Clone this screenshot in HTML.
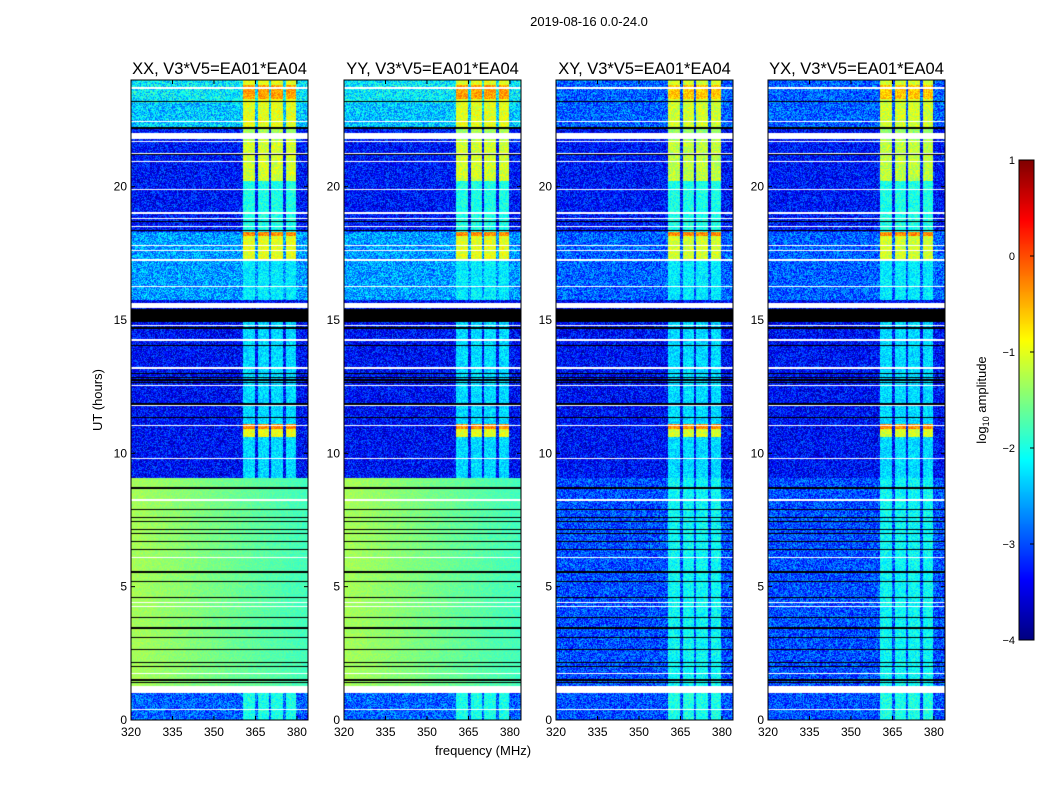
<!DOCTYPE html>
<html><head><meta charset="utf-8">
<style>
body{margin:0;background:#fff;width:1050px;height:800px;overflow:hidden;position:relative;font-family:"Liberation Sans",sans-serif}
canvas{position:absolute}
svg{position:absolute;left:0;top:0}
text{font-family:"Liberation Sans",sans-serif;fill:#000}
</style></head><body>
<div id="fig"></div>
<svg id="s" width="1050" height="800"></svg>
<script>
// ---- data (hours, MHz, log10 amplitude) ----
const panelTitles=["XX, V3*V5=EA01*EA04","YY, V3*V5=EA01*EA04","XY, V3*V5=EA01*EA04","YX, V3*V5=EA01*EA04"];
const panelCross=[0,0,1,1];
const segStart=[23.14,22.2,21.75,18.3,15.75,14.93,9.08,1.01,0];
const segEnd=[24,23.14,22.2,21.75,18.3,15.75,14.93,9.08,1.01];
const segPar=[-2.2,-2.4,-3.3,-3.3,-2.6,-3.4,-3.35,-1.3,-2.9];
const segCross=[-2.9,-2.9,-3.4,-3.3,-2.9,-3.4,-3.35,-3.0,-3.0];
const whiteStart=[23.67,22.44,21.79,21.66,21.24,20.91,19.86,18.97,18.78,18.5,17.79,17.57,17.23,16.25,15.45,14.79,14.23,13.18,12.54,11.79,11.04,9.77,8.23,6.09,4.37,4.22,1.74,1.01,0.36];
const whiteEnd=[23.73,22.48,22.01,21.7,21.28,20.95,19.9,19.05,18.82,18.54,17.83,17.61,17.27,16.29,15.64,14.83,14.28,13.22,12.58,11.83,11.08,9.81,8.27,6.13,4.41,4.26,1.78,1.28,0.4];
const blackStart=[23.16,22.18,21.2,18.69,18.32,14.93,14.68,14.04,12.99,12.84,12.73,12.62,11.83,11.31,8.68,7.86,7.56,7.41,7.11,6.99,6.66,6.36,5.53,5.16,4.59,3.81,3.43,3.09,2.61,2.12,1.97,1.48,1.37];
const blackEnd=[23.2,22.22,21.24,18.73,18.36,15.41,14.72,14.08,13.03,12.88,12.77,12.66,11.87,11.35,8.72,7.9,7.6,7.45,7.15,7.03,6.7,6.4,5.57,5.2,4.63,3.85,3.47,3.13,2.65,2.16,2.01,1.52,1.41];
const rfiFreqStart=[360.5,365.9,370.5,375.9];
const rfiFreqEnd=[364.8,369.8,374.8,379.8];
const rfiStart=[22.2,23.3,21.75,20.2,18.3,17.3,18.15,15.75,9.08,10.6,10.9,1.01,0];
const rfiEnd=[24,23.8,22.2,21.75,20.2,18.15,18.3,17.3,14.93,10.9,11.1,9.08,1.01];
const rfiPar=[-1.0,-0.4,-1.3,-1.1,-2.0,-1.0,-0.3,-2.2,-2.3,-1.0,-0.3,-1.5,-2.0];
const rfiCross=[-1.1,-0.6,-1.4,-1.2,-2.0,-1.1,-0.3,-2.2,-2.3,-1.1,-0.3,-2.1,-2.0];
const xTicks=[320,335,350,365,380];
const yTicks=[0,5,10,15,20];
const cbTicks=[1,0,-1,-2,-3,-4];
const cbLabels=["1","0","\u22121","\u22122","\u22123","\u22124"];
// ---- layout ----
const panelX=[131,344,556,768], PW=177, PT=80, PH=640;
const fMin=320,fMax=384,tMin=0,tMax=24,vMin=-4,vMax=1;
const xs=(f,i)=>panelX[i]+(f-fMin)/(fMax-fMin)*PW;
const ys=h=>PT+PH-(h-tMin)/(tMax-tMin)*PH;
function jet(v){let t=(v-vMin)/(vMax-vMin);t=Math.max(0,Math.min(1,t));
 const c=x=>Math.max(0,Math.min(1,1.5-Math.abs(4*t-x)));
 return [c(3)*255,c(2)*255,c(1)*255];}
function hash(a,b){let n=(a*374761393+b*668265263)|0;n=(n^(n>>>13))*1274126177;n=n^(n>>>16);return ((n>>>0)%1000)/1000;}
const svg=document.getElementById('s');const NS='http://www.w3.org/2000/svg';
function el(tag,attrs,parent){const e=document.createElementNS(NS,tag);for(const k in attrs)e.setAttribute(k,attrs[k]);(parent||svg).appendChild(e);return e;}
function txt(x,y,s,size,anchor,parent,rot){const t=el('text',{x:x,y:y,'font-size':size,'text-anchor':anchor||'middle'},parent);if(rot)t.setAttribute('transform',`rotate(-90 ${x} ${y})`);t.textContent=s;return t;}
const fig=document.getElementById('fig');
for(let p=0;p<4;p++){
 const cv=document.createElement('canvas');cv.width=PW;cv.height=PH;cv.style.left=panelX[p]+'px';cv.style.top=PT+'px';
 
 
 fig.appendChild(cv);
 const ctx=cv.getContext('2d');const img=ctx.createImageData(PW,PH);
 const cross=panelCross[p];
 for(let py=0;py<PH;py++){
  const h=tMax-(py+0.5)/PH*(tMax-tMin);
  let base=-3.3;for(let k=0;k<segStart.length;k++)if(h>=segStart[k]&&h<segEnd[k])base=cross?segCross[k]:segPar[k];
  let white=false,black=false;
  for(let k=0;k<whiteStart.length;k++)if(h>=whiteStart[k]&&h<whiteEnd[k])white=true;
  for(let k=0;k<blackStart.length;k++)if(h>=blackStart[k]&&h<blackEnd[k])black=true;
  let rfi=null;for(let k=0;k<rfiStart.length;k++)if(h>=rfiStart[k]&&h<rfiEnd[k])rfi=cross?rfiCross[k]:rfiPar[k];
  for(let px=0;px<PW;px++){
   const i=(py*PW+px)*4;let c;
   if(white)c=[255,255,255];else if(black)c=[0,0,0];else{
    const f=fMin+(px+0.5)/PW*(fMax-fMin);let v=base;let inR=false;
    if(rfi!==null){for(let k=0;k<4;k++)if(f>=rfiFreqStart[k]&&f<rfiFreqEnd[k]&&rfi>v){v=rfi;inR=true;}}
    const smooth=base>-2&&!cross;
    v+=(hash(px+p*1000,py)-0.5)*(smooth?0.25:(inR?0.6:1.1));
    if(smooth&&!inR)v-=(f-320)/64*0.5;
    c=jet(v);}
   img.data[i]=c[0];img.data[i+1]=c[1];img.data[i+2]=c[2];img.data[i+3]=255;}
 }
 ctx.putImageData(img,0,0);
 const g=el('g',{});
 
 
 el('rect',{x:panelX[p],y:PT,width:PW,height:PH,fill:'none',stroke:'#000','stroke-width':1},g);
 const tt=txt(panelX[p]+PW/2,74,panelTitles[p],16.5,'middle',g);
 
 
 xTicks.forEach(f=>{const x=xs(f,p);el('line',{x1:x,x2:x,y1:PT+PH,y2:PT+PH-4,stroke:'#000'},g);el('line',{x1:x,x2:x,y1:PT,y2:PT+4,stroke:'#000'},g);
  const l=txt(x,PT+PH+16,String(f),12,'middle',g);});
 yTicks.forEach(hv=>{const y=ys(hv);el('line',{x1:panelX[p],x2:panelX[p]+4,y1:y,y2:y,stroke:'#000'},g);el('line',{x1:panelX[p]+PW,x2:panelX[p]+PW-4,y1:y,y2:y,stroke:'#000'},g);
  const l=txt(panelX[p]-4,y+4,String(hv),12,'end',g);});
}
// colorbar
const cbX=1019,cbY=160,cbW=15,cbH=480;
const cb=document.createElement('canvas');cb.width=cbW;cb.height=cbH;cb.style.left=cbX+'px';cb.style.top=cbY+'px';


fig.appendChild(cb);
const cctx=cb.getContext('2d');
for(let y=0;y<cbH;y++){const c=jet(vMax-(y+0.5)/cbH*(vMax-vMin));cctx.fillStyle=`rgb(${c[0]|0},${c[1]|0},${c[2]|0})`;cctx.fillRect(0,y,cbW,1);}
el('rect',{x:cbX,y:cbY,width:cbW,height:cbH,fill:'none',stroke:'#000'});
cbTicks.forEach((v,k)=>{const y=cbY+(vMax-v)/(vMax-vMin)*cbH;el('line',{x1:cbX+cbW-4,x2:cbX+cbW,y1:y,y2:y,stroke:'#000'});
 const l=txt(cbX-4,y+4,cbLabels[k],11,'end');});
const st=txt(589,26,'2019-08-16 0.0-24.0',13);
const yl=txt(102,400,'UT (hours)',13,'middle',null,true);
const xl=txt(483,755,'frequency (MHz)',13);
const cl=el('text',{x:986,y:400,'font-size':13,'text-anchor':'middle',transform:'rotate(-90 986 400)'});

cl.innerHTML='log<tspan font-size="9" dy="3">10</tspan><tspan dy="-3"> amplitude</tspan>';
</script>
</body></html>
